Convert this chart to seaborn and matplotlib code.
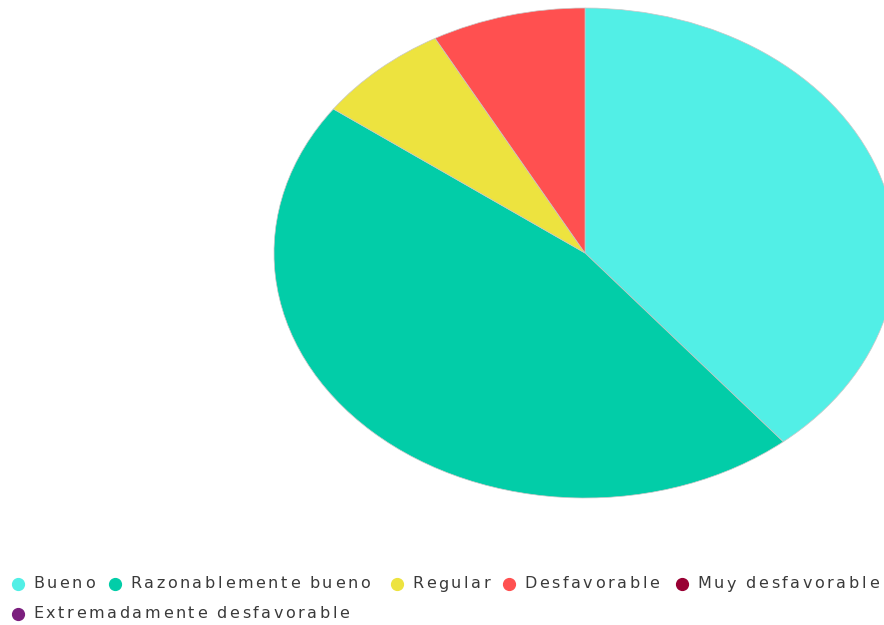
import matplotlib
matplotlib.use("Agg")
import matplotlib.pyplot as plt
import seaborn as sns

sns.set_theme(style="white")
plt.rcParams['font.family'] = ['DejaVu Sans']

categories = ["Bueno", "Razonablemente bueno", "Regular", "Desfavorable",
              "Muy desfavorable", "Extremadamente desfavorable"]
values = [39, 46, 7, 8, 0, 0]
colors = ["#52EFE6", "#02CDA8", "#EDE33F", "#FF5050", "#990033", "#7B1F7E"]

W, H = 884, 625
fig = plt.figure(figsize=(W / 100, H / 100), dpi=100)

# pie axes (elliptical pie, partly cut by the right edge)
cx, cy, rx, ry = 585, 253, 311, 245
ax = fig.add_axes([(cx - rx) / W, (H - (cy + ry)) / H, 2 * rx / W, 2 * ry / H])
vals = [v for v in values if v > 0]
cols = [c for v, c in zip(values, colors) if v > 0]
ax.pie(vals, colors=cols, startangle=90, counterclock=False,
       wedgeprops=dict(linewidth=0.5, edgecolor="#c8c8c8"))
ax.set_aspect("auto")
ax.set_xlim(-1, 1)
ax.set_ylim(-1, 1)
ax.axis("off")

# legend (manual layout in pixel coordinates, letter-spaced text)
lax = fig.add_axes([0, 0, 1, 1])
lax.set_xlim(0, W)
lax.set_ylim(H, 0)
lax.axis("off")
lax.patch.set_alpha(0)
renderer = fig.canvas.get_renderer()
spacing = 2.6
pos = [(18, 584), (115, 584), (397, 584), (509, 584), (682, 584), (18, 614)]
for (x, y), lab, col in zip(pos, categories, colors):
    lax.plot([x], [y], marker="o", markersize=8.5, color=col, linestyle="none")
    xx = x + 15
    for ch in lab:
        t = lax.text(xx, y, ch, va="center", ha="left", fontsize=11.5,
                     color="#3a3a3a")
        if ch == " ":
            w = 4.5
        else:
            w = t.get_window_extent(renderer).width
        xx += w + spacing

fig.savefig("out.png", dpi=100)
